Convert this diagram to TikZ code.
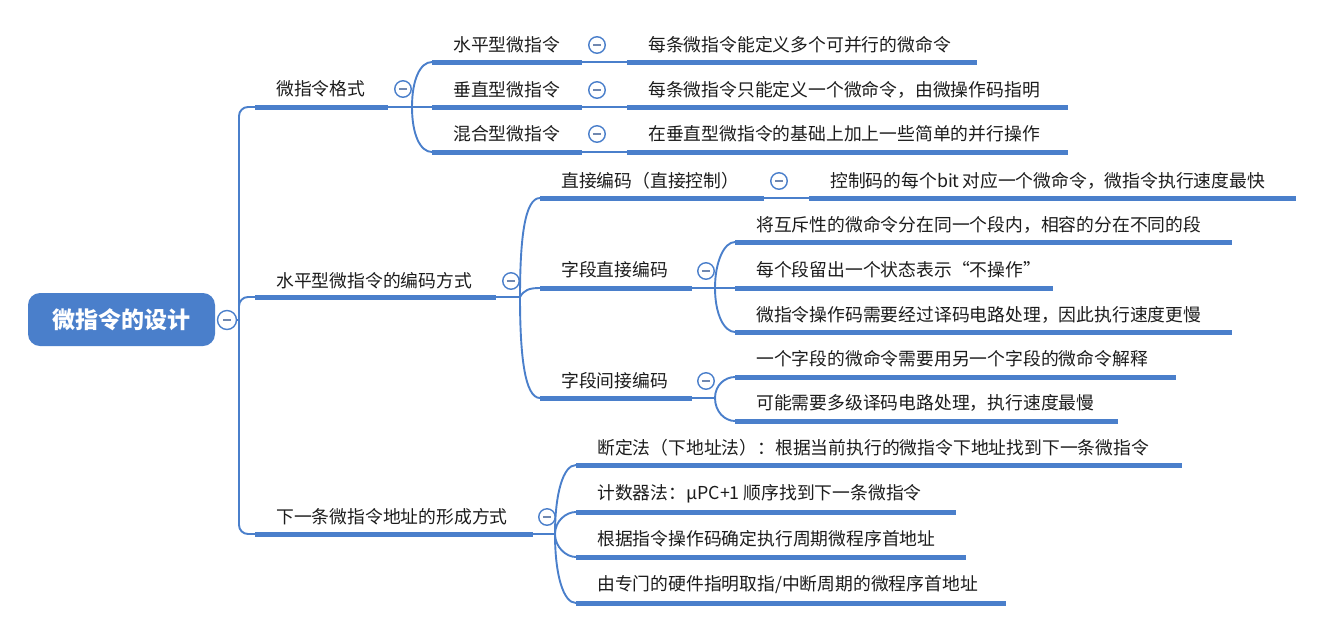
\documentclass[tikz,border=0pt]{standalone}
\usepackage{fontspec}
\newfontfamily\cjk{Noto Sans CJK SC}
\definecolor{bl}{HTML}{4A7FCB}
\definecolor{tx}{HTML}{1C1C1C}
\definecolor{mn}{HTML}{7088B0}
\begin{document}
\begin{tikzpicture}[x=1pt,y=-1pt,
  ul/.style={draw=bl, line width=5pt},
  conn/.style={draw=bl, line width=1.9pt},
  lbl/.style={anchor=west, inner sep=0pt, text=tx, font=\cjk\fontsize{17.8}{20}\selectfont},
  rootbox/.style={fill=bl, rounded corners=12pt, minimum width=187pt, minimum height=53pt, inner sep=0pt, text=white, font=\cjk\bfseries\fontsize{23}{26}\selectfont},
  tog/.style={circle, draw=bl, fill=white, line width=1.4pt, minimum size=16.5pt, inner sep=0pt,
    path picture={\draw[mn, line width=1.4pt] ([xshift=-3.6pt]path picture bounding box.center) -- ([xshift=3.6pt]path picture bounding box.center);}},
]
\useasboundingbox (0,0) rectangle (1328,633);

% ---------- root ----------
\node[rootbox] (root) at (121.5,319.5) {微指令的设计};
\node[tog, minimum size=19pt] (rc) at (227,320) {};
\coordinate (sp) at (239,320);

% ---------- level 1 coordinates ----------
\coordinate (As) at (255,107); \coordinate (Ae) at (388,107); \coordinate (Aj) at (412,107);
\coordinate (Bs) at (255,297); \coordinate (Be) at (496,297); \coordinate (Bj) at (520,297);
\coordinate (Cs) at (255,534); \coordinate (Ce) at (533,534); \coordinate (Cj) at (555,534);

\draw[conn] (rc) -- (sp);
\draw[conn, rounded corners=9pt] (sp) |- (As);
\draw[conn, rounded corners=9pt] (sp) |- (Bs);
\draw[conn, rounded corners=9pt] (sp) |- (Cs);

% ---------- A: 微指令格式 ----------
\draw[ul] (As) -- (Ae); \draw[conn] (Ae) -- (Aj);
\node[lbl] (A) at (276,89) {微指令格式};
\node[tog] (Ac) at (403,89) {};

\coordinate (A1s) at (432,62);  \coordinate (A1e) at (582,62);  \coordinate (A1l) at (627,62);  \coordinate (A1le) at (977,62);
\coordinate (A2s) at (432,107); \coordinate (A2e) at (582,107); \coordinate (A2l) at (627,107); \coordinate (A2le) at (1068,107);
\coordinate (A3s) at (432,152); \coordinate (A3e) at (582,152); \coordinate (A3l) at (627,152); \coordinate (A3le) at (1068,152);

\draw[conn] (Aj) .. controls +(0,-27) and +(-12,0) .. (A1s);
\draw[conn] (Aj) -- (A2s);
\draw[conn] (Aj) .. controls +(0,27) and +(-12,0) .. (A3s);

\foreach \i in {1,2,3}{
  \draw[ul] (A\i s) -- (A\i e);
  \draw[conn] (A\i e) -- (A\i l);
  \draw[ul] (A\i l) -- (A\i le);
}
\node[lbl] (A1) at (453,45) {水平型微指令};
\node[tog] (A1c) at (597,45) {};
\node[lbl] (A1x) at (648,45) {每条微指令能定义多个可并行的微命令};
\node[lbl] (A2) at (453,90) {垂直型微指令};
\node[tog] (A2c) at (597,90) {};
\node[lbl] (A2x) at (648,90) {每条微指令只能定义一个微命令，由微操作码指明};
\node[lbl] (A3) at (453,134) {混合型微指令};
\node[tog] (A3c) at (597,134) {};
\node[lbl] (A3x) at (648,134) {在垂直型微指令的基础上加上一些简单的并行操作};

% ---------- B: 水平型微指令的编码方式 ----------
\draw[ul] (Bs) -- (Be); \draw[conn] (Be) -- (Bj);
\node[lbl] (B) at (276,281) {水平型微指令的编码方式};
\node[tog] (Bc) at (511,281) {};

\coordinate (B1s) at (540,198); \coordinate (B1e) at (764,198); \coordinate (B1l) at (809,198); \coordinate (B1le) at (1296,198);
\coordinate (B2s) at (540,288); \coordinate (B2e) at (692,288); \coordinate (B2j) at (715,288);
\coordinate (B3s) at (540,398); \coordinate (B3e) at (692,398); \coordinate (B3j) at (715,398);

\draw[conn] (Bj) .. controls +(0,-60) and +(-15,0) .. (B1s);
\draw[conn] (Bj) .. controls +(4,-7) and +(-11,0) .. (B2s);
\draw[conn] (Bj) .. controls +(0,60) and +(-15,0) .. (B3s);

\draw[ul] (B1s) -- (B1e); \draw[conn] (B1e) -- (B1l); \draw[ul] (B1l) -- (B1le);
\node[lbl] (B1) at (561,181) {直接编码（直接控制）};
\node[tog] (B1c) at (779,181) {};
\node[lbl] (B1x) at (830,181) {控制码的每个bit\,对应一个微命令，微指令执行速度最快};

% B2 字段直接编码
\draw[ul] (B2s) -- (B2e); \draw[conn] (B2e) -- (B2j);
\node[lbl] (B2) at (561,270) {字段直接编码};
\node[tog] (B2c) at (706,271) {};
\coordinate (B21s) at (735,242); \coordinate (B21e) at (1232,242);
\coordinate (B22s) at (735,288); \coordinate (B22e) at (1053,288);
\coordinate (B23s) at (735,332); \coordinate (B23e) at (1232,332);
\draw[conn] (B2j) .. controls +(0,-26) and +(-11,0) .. (B21s);
\draw[conn] (B2j) -- (B22s);
\draw[conn] (B2j) .. controls +(0,26) and +(-11,0) .. (B23s);
\draw[ul] (B21s) -- (B21e); \draw[ul] (B22s) -- (B22e); \draw[ul] (B23s) -- (B23e);
\node[lbl] (B21) at (756,225) {将互斥性的微命令分在同一个段内，相容的分在不同的段};
\node[lbl] (B22) at (756,270) {每个段留出一个状态表示“不操作”};
\node[lbl] (B23) at (756,315) {微指令操作码需要经过译码电路处理，因此执行速度更慢};

% B3 字段间接编码
\draw[ul] (B3s) -- (B3e); \draw[conn] (B3e) -- (B3j);
\node[lbl] (B3) at (561,381) {字段间接编码};
\node[tog] (B3c) at (706,381) {};
\coordinate (B31s) at (735,377); \coordinate (B31e) at (1176,377);
\coordinate (B32s) at (735,421); \coordinate (B32e) at (1118,421);
\draw[conn] (B3j) .. controls +(0,-13) and +(-10,0) .. (B31s);
\draw[conn] (B3j) .. controls +(0,14) and +(-10,0) .. (B32s);
\draw[ul] (B31s) -- (B31e); \draw[ul] (B32s) -- (B32e);
\node[lbl] (B31) at (756,359) {一个字段的微命令需要用另一个字段的微命令解释};
\node[lbl] (B32) at (756,403) {可能需要多级译码电路处理，执行速度最慢};

% ---------- C: 下一条微指令地址的形成方式 ----------
\draw[ul] (Cs) -- (Ce); \draw[conn] (Ce) -- (Cj);
\node[lbl] (C) at (276,517) {下一条微指令地址的形成方式};
\node[tog] (Cc) at (547,517) {};
\coordinate (C1s) at (576,465); \coordinate (C1e) at (1182,465);
\coordinate (C2s) at (576,512); \coordinate (C2e) at (956,512);
\coordinate (C3s) at (576,557); \coordinate (C3e) at (966,557);
\coordinate (C4s) at (576,603); \coordinate (C4e) at (1006,603);
\draw[conn] (Cj) .. controls +(0,-40) and +(-13,0) .. (C1s);
\draw[conn] (Cj) .. controls +(0,-13) and +(-10,0) .. (C2s);
\draw[conn] (Cj) .. controls +(0,13) and +(-10,0) .. (C3s);
\draw[conn] (Cj) .. controls +(0,40) and +(-13,0) .. (C4s);
\foreach \i in {1,2,3,4}{ \draw[ul] (C\i s) -- (C\i e); }
\node[lbl] (C1) at (597,448) {断定法（下地址法）：根据当前执行的微指令下地址找到下一条微指令};
\node[lbl] (C2) at (597,494) {计数器法：μPC+1 顺序找到下一条微指令};
\node[lbl] (C3) at (597,539) {根据指令操作码确定执行周期微程序首地址};
\node[lbl] (C4) at (597,585) {由专门的硬件指明取指/中断周期的微程序首地址};
\end{tikzpicture}
\end{document}
